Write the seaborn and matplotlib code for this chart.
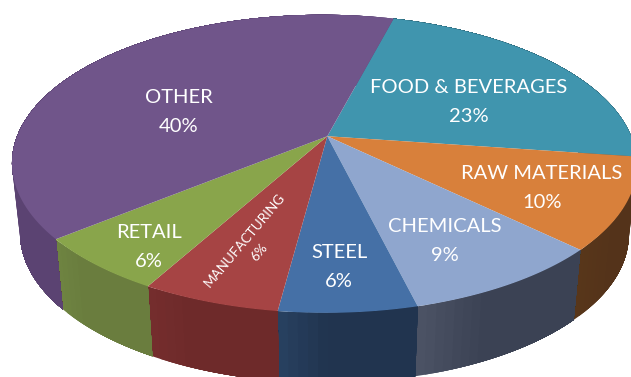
import numpy as np
import matplotlib
matplotlib.use("Agg")
import matplotlib.pyplot as plt
from matplotlib.path import Path
from matplotlib.transforms import Transform
import seaborn as sns

sectors = ["FOOD & BEVERAGES", "RAW MATERIALS", "CHEMICALS", "STEEL", "MANUFACTURING", "RETAIL", "OTHER"]
shares = [23, 10, 9, 6, 6, 6, 40]
top_colors = ["#4095AE", "#D8803B", "#8FA6CE", "#4570A6", "#A64444", "#89A54B", "#70558A"]
wall_start = ["#2C6678", "#58361A", "#4B5264", "#27405F", "#742D2D", "#6E8341", "#5F4678"]
wall_end = ["#2C6678", "#54331A", "#3B4254", "#21344F", "#6E2A2A", "#6A7D3E", "#5B4372"]

# Projective camera that lays the unit disc of the pie onto the tilted plane
CAMERA = np.array([[284.33868, 137.55495, 327.31212],
                   [32.42047, -114.26939, 136.23832],
                   [-0.03853, 0.18097, 1.0]])
DEPTH = 70
TAPER = 0.974
AXIS_X = 322


class Tilt(Transform):
    input_dims = output_dims = 2
    is_separable = False
    has_inverse = False

    def __init__(self, M):
        super().__init__()
        self.M = M

    def transform_non_affine(self, values):
        p = np.c_[values, np.ones(len(values))] @ self.M.T
        return p[:, :2] / p[:, 2:]

    def transform_path_non_affine(self, path):
        t = np.linspace(0, 1, 25)
        pts = [curve(t) for curve, code in path.iter_bezier() if code != Path.MOVETO]
        return Path(self.transform_non_affine(np.vstack(pts)))


sns.set_theme(style="white")
plt.rcParams["font.family"] = ["Lato", "DejaVu Sans"]
fig, ax = plt.subplots(figsize=(6.31, 3.77), dpi=100)
fig.subplots_adjust(0, 0, 1, 1)
wedges, _ = ax.pie(shares, colors=top_colors, startangle=90, counterclock=False,
                   wedgeprops=dict(linewidth=0))
top = Tilt(CAMERA)
for w in wedges:
    w.set_transform(top + ax.transData)


def rim(a1, a2, n):
    a = np.radians(np.linspace(a1, a2, n))
    return top.transform_non_affine(np.c_[np.cos(a), np.sin(a)])


def lower(p):
    return np.c_[AXIS_X + TAPER * (p[:, 0] - AXIS_X), p[:, 1] + DEPTH]


# Side wall of each slice: overlapping strips shade it from its left end along the arc
for w, c0, c1 in zip(wedges, wall_start, wall_end):
    n = max(4, int((w.theta2 - w.theta1) / 1.5))
    shades = sns.blend_palette([c0, c1, c1, c1], n)
    a = np.linspace(w.theta1, w.theta2, n + 1)
    for i, c in enumerate(shades):
        p = rim(a[i], a[n], max(4, n - i + 2))
        poly = np.vstack([p, lower(p)[::-1]])
        ax.fill(poly[:, 0], poly[:, 1], color=c, lw=0, zorder=0)

ax.set_aspect("auto")
ax.set_xlim(0, 631)
ax.set_ylim(377, 0)
ax.axis("off")


def label(x, y, s, size=14.5, rot=0, spacing=1.8):
    ax.text(x, y, s, color="white", ha="center", va="center", fontsize=size,
            rotation=rot, rotation_mode="anchor", linespacing=spacing, multialignment="center")


label(179, 112, f"{sectors[6]}\n{shares[6]}%")
label(469, 102, f"{sectors[0]}\n{shares[0]}%")
label(542, 188, f"{sectors[1]}\n{shares[1]}%")
label(445, 241, f"{sectors[2]}\n{shares[2]}%")
label(339, 267, f"{sectors[3]}\n{shares[3]}%")
label(149, 247, f"{sectors[5]}\n{shares[5]}%")
label(252, 246, f"{sectors[4]}\n{shares[4]}%", size=9.7, rot=50, spacing=1.6)

fig.savefig("out.png", dpi=100)
